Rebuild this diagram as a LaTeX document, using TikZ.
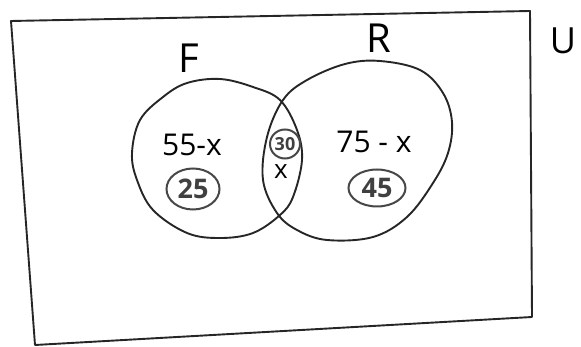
\documentclass[tikz,border=0pt]{standalone}
\usepackage{fontspec}
\usetikzlibrary{shapes.geometric}
\setmainfont{Open Sans}
\begin{document}
\begin{tikzpicture}[x=1pt,y=-1pt,
  ink/.style={draw=black!85,line width=1.9pt,line join=round,line cap=round},
  lbl/.style={inner sep=0pt,font=\fontsize{30}{30}\selectfont},
  setname/.style={inner sep=0pt,font=\fontsize{40}{40}\selectfont},
  ringnum/.style={draw=black!72,line width=2pt,ellipse,inner sep=0pt,text=black!75}]
\useasboundingbox (0,0) rectangle (581,347);
% universe
\draw[ink] (11,21) -- (530,11) -- (532,317) -- (35,345) -- cycle;
\node[inner sep=0pt,font=\fontsize{36}{36}\selectfont] (U) at (563,41) {U};
% set F
\draw[ink] plot[smooth cycle,tension=0.6] coordinates{
 (220,79) (253,87) (280,100) (297,130) (302,160) (293,197) (280,215)
 (253,233) (220,238) (187,233) (153,210) (137,180) (132,153) (140,120)
 (163,97) (187,83)};
% set R
\draw[ink] plot[smooth cycle,tension=0.6] coordinates{
 (380,61) (420,70) (443,93) (452,122) (448,153) (433,183) (407,217)
 (373,237) (327,240) (297,230) (277,213) (263,180) (267,137) (283,100)
 (307,80) (345,64)};
\node[setname] (F) at (189,58) {F};
\node[setname] (R) at (379,38) {R};
\node[lbl] (fonly) at (192,145) {55-x};
\node[lbl] (ronly) at (374,142) {75 - x};
\node[lbl,font=\fontsize{26}{26}\selectfont] (both) at (281,172) {x};
\node[ringnum,minimum width=30pt,minimum height=29pt,font=\bfseries\fontsize{18}{18}\selectfont] (c30) at (285,144) {30};
\node[ringnum,minimum width=53pt,minimum height=41pt,font=\bfseries\fontsize{27}{27}\selectfont] (c25) at (193,189) {25};
\node[ringnum,minimum width=57pt,minimum height=37pt,font=\bfseries\fontsize{27}{27}\selectfont] (c45) at (377,188) {45};
\end{tikzpicture}
\end{document}
